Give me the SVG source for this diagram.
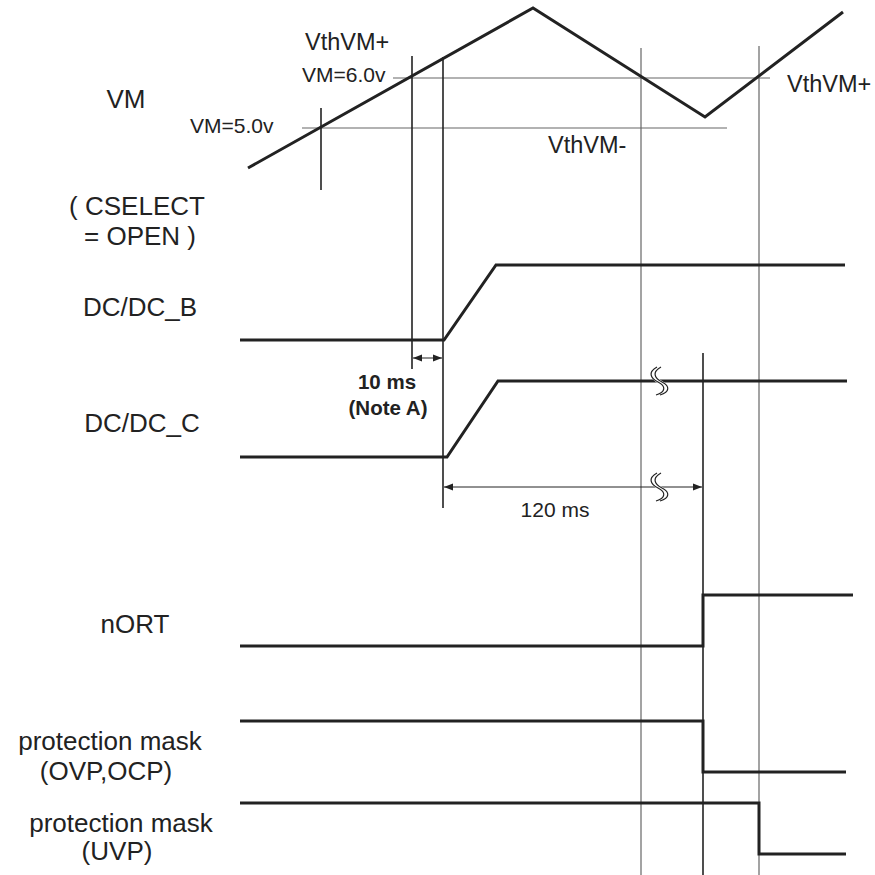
<svg xmlns="http://www.w3.org/2000/svg" width="875" height="875" viewBox="0 0 875 875">
<style>
text{font-family:"Liberation Sans",Arial,sans-serif;fill:#222}
.lbl{font-size:26px;text-anchor:middle}
.mid{font-size:23.5px}
.sm{font-size:21px}
.b{font-size:20.5px;font-weight:bold;text-anchor:middle}
.wave{fill:none;stroke:#222;stroke-width:3;stroke-linejoin:miter}
.grid{stroke:#666;stroke-width:1.2;fill:none}
.mark{stroke:#222;stroke-width:1.6;fill:none}
.dim{stroke:#222;stroke-width:1;fill:none}
.brk{fill:none;stroke:#222;stroke-width:1.2}
</style>
<defs>
<marker id="ah" viewBox="0 0 10 10" refX="10" refY="5" markerWidth="9" markerHeight="9" markerUnits="userSpaceOnUse" orient="auto-start-reverse">
<path d="M0,1 L10,5 L0,9 Z" fill="#222"/>
</marker>
<g id="breaksym">
<path d="M0,0 C-9,5 -7,11 1,15 C9,19 9,25 -1,28" fill="none" stroke="#fff" stroke-width="4"/>
<path d="M-2,0 C-11,5 -9,11 -1,15 C7,19 7,25 -3,28" class="brk"/>
<path d="M2,0 C-7,5 -5,11 3,15 C11,19 11,25 1,28" class="brk"/>
</g>
</defs>

<g id="connectors">
<line class="grid" x1="393" y1="78" x2="770" y2="78"/>
<line class="grid" x1="302" y1="128" x2="727" y2="128"/>
<line class="grid" x1="641" y1="48" x2="641" y2="875"/>
<line class="grid" x1="759" y1="46" x2="759" y2="875"/>
<line class="mark" x1="321" y1="108" x2="321" y2="190"/>
<line class="mark" x1="412" y1="56" x2="412" y2="369"/>
<line class="mark" x1="443" y1="57" x2="443" y2="508"/>
<line class="mark" x1="703" y1="353" x2="703" y2="875"/>
<line class="dim" x1="413" y1="358" x2="442" y2="358" marker-start="url(#ah)" marker-end="url(#ah)"/>
<line class="dim" x1="444" y1="487" x2="702" y2="487" marker-start="url(#ah)" marker-end="url(#ah)"/>
</g>

<g id="VM">
<text class="lbl" x="126" y="108">VM</text>
<polyline class="wave" points="248,168 533,8 705,117 843,12"/>
<text class="mid" x="305" y="50">VthVM+</text>
<text class="sm" x="302" y="82">VM=6.0v</text>
<text class="sm" x="190" y="133">VM=5.0v</text>
<text class="mid" x="787" y="92">VthVM+</text>
<text class="mid" x="548" y="153">VthVM-</text>
</g>

<g id="cselect">
<text class="lbl" x="137" y="215">( CSELECT</text>
<text class="lbl" x="140" y="245">= OPEN )</text>
</g>

<g id="DCDC_B">
<text class="lbl" x="140" y="316">DC/DC_B</text>
<polyline class="wave" points="240,340 444,340 496,265 845,265"/>
</g>

<g id="note10ms">
<text class="b" x="387" y="389">10 ms</text>
<text class="b" x="388" y="415">(Note A)</text>
</g>

<g id="DCDC_C">
<text class="lbl" x="142" y="432">DC/DC_C</text>
<polyline class="wave" points="240,457 447,457 498,381 847,381"/>
<use href="#breaksym" x="659" y="367"/>
</g>

<g id="t120ms">
<use href="#breaksym" x="659" y="473"/>
<text class="sm" x="555" y="517" text-anchor="middle">120 ms</text>
</g>

<g id="nORT">
<text class="lbl" x="135" y="633">nORT</text>
<polyline class="wave" points="240,646 703,646 703,595 853,595"/>
</g>

<g id="maskOVP">
<text class="lbl" x="110" y="750">protection mask</text>
<text class="lbl" x="106" y="780">(OVP,OCP)</text>
<polyline class="wave" points="240,721 703,721 703,772 846,772"/>
</g>

<g id="maskUVP">
<text class="lbl" x="121" y="832">protection mask</text>
<text class="lbl" x="117" y="860">(UVP)</text>
<polyline class="wave" points="240,803 759,803 759,854 846,854"/>
</g>
</svg>
